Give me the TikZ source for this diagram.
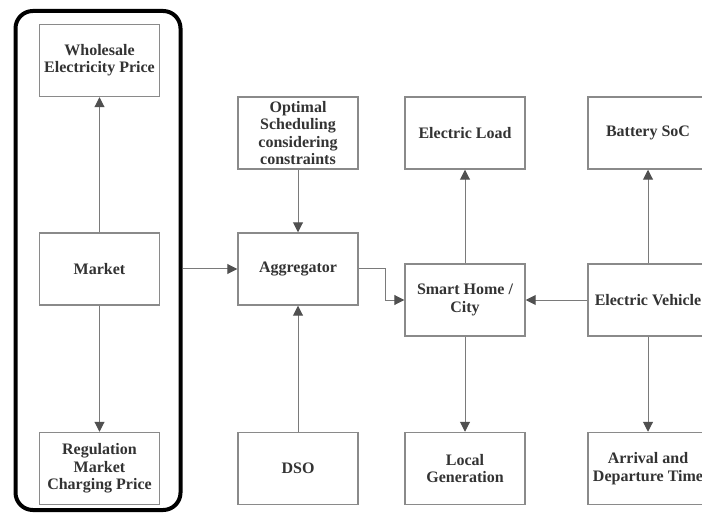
\documentclass[tikz,border=0pt]{standalone}
\usepackage{fontspec}
\setmainfont{Liberation Serif}
\usetikzlibrary{arrows.meta,positioning}
\definecolor{boxgray}{HTML}{8A8A8A}
\definecolor{linegray}{HTML}{7A7A7A}
\definecolor{headgray}{HTML}{505050}
\definecolor{txt}{HTML}{333333}
\tikzset{
  blk/.style={draw=boxgray, line width=1.1pt, fill=white, minimum width=90pt, minimum height=54pt,
    inner sep=1pt, align=center, font=\bfseries\fontsize{12}{13}\selectfont, text=txt},
  conn/.style={draw=linegray, line width=0.75pt, -{Triangle[length=7.5pt,width=7.5pt,fill=headgray,color=headgray]}},
}
\begin{document}
\begin{tikzpicture}[x=0.75pt,y=-0.75pt]
\clip (0,0) rectangle (702,516);
\fill[white] (0,0) rectangle (702,516);
% frame
\node[draw=black, line width=3pt, rounded corners=13pt, minimum width=123.75pt, minimum height=374.25pt] (frame) at (98,260.5) {};
% nodes
\node[blk] (wholesale) at (99.5,60.5) {Wholesale\\Electricity Price};
\node[blk] (market) at (99.5,269) {Market};
\node[blk] (regulation) at (99.5,468.5) {Regulation\\Market\\Charging Price};
\node[blk] (optimal) at (298,133) {Optimal\\Scheduling\\considering\\constraints};
\node[blk] (aggregator) at (298,269) {Aggregator};
\node[blk] (dso) at (298,468.5) {DSO};
\node[blk] (eload) at (465,133) {Electric Load};
\node[blk] (smart) at (465,300) {Smart Home /\\City};
\node[blk] (localgen) at (465,468.5) {Local\\Generation};
\node[blk] (battery) at (648,133) {Battery SoC};
\node[blk] (ev) at (648,300) {Electric Vehicle};
\node[blk] (arrival) at (648,468.5) {Arrival and\\Departure Time};
% connectors
\draw[conn] (market) -- (wholesale);
\draw[conn] (market) -- (regulation);
\draw[conn] (frame.east |- market) -- (aggregator.west);
\draw[conn] (optimal) -- (aggregator);
\draw[conn] (dso) -- (aggregator);
\draw[conn] (aggregator.east) -- ++(27,0) |- (smart.west);
\draw[conn] (smart) -- (eload);
\draw[conn] (smart) -- (localgen);
\draw[conn] (ev) -- (smart);
\draw[conn] (ev) -- (battery);
\draw[conn] (ev) -- (arrival);
\end{tikzpicture}
\end{document}
